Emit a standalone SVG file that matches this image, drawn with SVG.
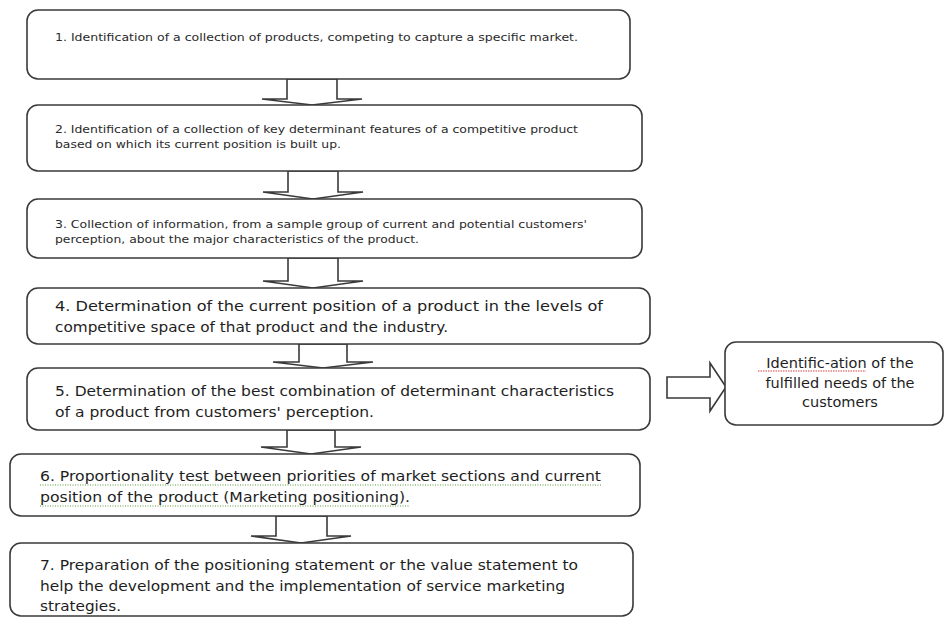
<svg xmlns="http://www.w3.org/2000/svg" width="945" height="617" viewBox="0 0 945 617">
<style>
.box{fill:#fff;stroke:#3a3a3a;stroke-width:1.6}
.arr{fill:#fff;stroke:#3a3a3a;stroke-width:1.6;stroke-linejoin:miter}
.s{font-family:"DejaVu Sans",Verdana,sans-serif;font-size:10.5px;fill:#2a2a2a}
.t{font-family:"DejaVu Sans",Verdana,sans-serif;font-size:14.5px;fill:#1e1e1e}
.g{stroke:#5a9a3a;stroke-width:1;stroke-dasharray:1 1.5;fill:none}
.r{stroke:#d04040;stroke-width:1;stroke-dasharray:1.5 1;fill:none}
</style>
<rect width="945" height="617" fill="#fff"/>
<g id="connectors">
<polygon class="arr" points="287,79 337,79 337,99 362,99 312,105 262,99 287,99"/>
<polygon class="arr" points="288,171 338,171 338,192 363,192 313,199 263,192 288,192"/>
<polygon class="arr" points="288,258 338,258 338,281 363,281 313,288 263,281 288,281"/>
<polygon class="arr" points="299,344 347,344 347,362 373,362 323,368 273,362 299,362"/>
<polygon class="arr" points="287,430 335,430 335,447 361,447 311,454 261,447 287,447"/>
<polygon class="arr" points="276,516 327,516 327,536 351,536 301,543 251,536 276,536"/>
<polygon class="arr" points="667,377 710,377 710,363 726,387 710,411 710,398 667,398"/>
</g>
<g id="n1">
<rect class="box" x="27" y="10" width="603" height="69" rx="11"/>
<text class="s" x="55" y="41" textLength="523" lengthAdjust="spacingAndGlyphs">1. Identification of a collection of products, competing to capture a specific market.</text>
</g>
<g id="n2">
<rect class="box" x="27" y="105" width="615" height="66" rx="11"/>
<text class="s" x="55" y="133" textLength="523" lengthAdjust="spacingAndGlyphs">2. Identification of a collection of key determinant features of a competitive product</text>
<text class="s" x="55" y="148" textLength="286" lengthAdjust="spacingAndGlyphs">based on which its current position is built up.</text>
</g>
<g id="n3">
<rect class="box" x="27" y="199" width="615" height="59" rx="11"/>
<text class="s" x="55" y="228" textLength="532" lengthAdjust="spacingAndGlyphs">3. Collection of information, from a sample group of current and potential customers'</text>
<text class="s" x="55" y="243" textLength="364" lengthAdjust="spacingAndGlyphs">perception, about the major characteristics of the product.</text>
</g>
<g id="n4">
<rect class="box" x="27" y="288" width="623" height="56" rx="11"/>
<text class="t" x="55" y="311" textLength="548" lengthAdjust="spacingAndGlyphs">4. Determination of the current position of a product in the levels of</text>
<text class="t" x="55" y="332" textLength="393" lengthAdjust="spacingAndGlyphs">competitive space of that product and the industry.</text>
</g>
<g id="n5">
<rect class="box" x="27" y="368" width="623" height="62" rx="11"/>
<text class="t" x="55" y="396" textLength="559" lengthAdjust="spacingAndGlyphs">5. Determination of the best combination of determinant characteristics</text>
<text class="t" x="55" y="417" textLength="319" lengthAdjust="spacingAndGlyphs">of a product from customers' perception.</text>
</g>
<g id="n6">
<rect class="box" x="10" y="454" width="630" height="62" rx="11"/>
<text class="t" x="40" y="481" textLength="561" lengthAdjust="spacingAndGlyphs">6. Proportionality test between priorities of market sections and current</text>
<text class="t" x="40" y="502" textLength="370" lengthAdjust="spacingAndGlyphs">position of the product (Marketing positioning).</text>
<line class="g" x1="40" y1="485" x2="601" y2="485"/>
<line class="g" x1="40" y1="506" x2="410" y2="506"/>
</g>
<g id="n7">
<rect class="box" x="10" y="543" width="623" height="73" rx="11"/>
<text class="t" x="40" y="570" textLength="538" lengthAdjust="spacingAndGlyphs">7. Preparation of the positioning statement or the value statement to</text>
<text class="t" x="40" y="591" textLength="525" lengthAdjust="spacingAndGlyphs">help the development and the implementation of service marketing</text>
<text class="t" x="40" y="611" textLength="81" lengthAdjust="spacingAndGlyphs">strategies.</text>
</g>
<g id="n8">
<rect class="box" x="725" y="342" width="218" height="83" rx="11"/>
<text class="t" x="840" y="368" text-anchor="middle">Identific-ation of the</text>
<text class="t" x="840" y="388" text-anchor="middle">fulfilled needs of the</text>
<text class="t" x="840" y="407" text-anchor="middle">customers</text>
<line class="r" x1="758" y1="371" x2="866" y2="371"/>
</g>
</svg>
